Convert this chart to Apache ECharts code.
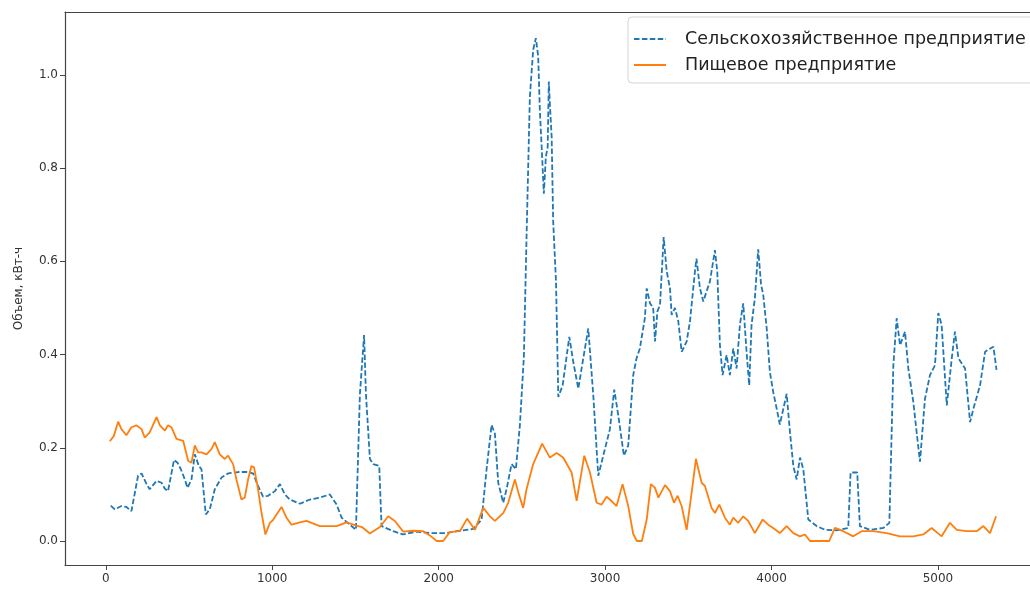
<!DOCTYPE html>
<html>
<head>
<meta charset="utf-8">
<script src="https://cdn.jsdelivr.net/npm/echarts@6/dist/echarts.min.js"></script>
<style>html,body{margin:0;padding:0;background:#fff}#c{width:1030px;height:589px}</style>
</head>
<body>
<div id="c"></div>
<script>
const seriesNames = ['Сельскохозяйственное предприятие', 'Пищевое предприятие'];
const yAxisName = 'Объем, кВт-ч';
const xTicks = [0, 1000, 2000, 3000, 4000, 5000];
const yTicks = [0, 0.2, 0.4, 0.6, 0.8, 1.0];

// Сельскохозяйственное предприятие: [x, value]
const agri = [[30,0.076],[54,0.068],[94,0.075],[124,0.073],[154,0.064],[194,0.14],[215,0.145],[245,0.122],[264,0.111],[305,0.129],[335,0.125],[355,0.112],[374,0.107],[410,0.174],[431,0.168],[451,0.154],[475,0.132],[491,0.114],[515,0.132],[535,0.186],[559,0.161],[575,0.154],[601,0.057],[625,0.068],[655,0.111],[695,0.136],[735,0.145],[795,0.148],[846,0.148],[885,0.145],[915,0.118],[945,0.095],[975,0.097],[1016,0.107],[1046,0.122],[1076,0.1],[1106,0.089],[1166,0.08],[1226,0.089],[1286,0.093],[1346,0.1],[1387,0.078],[1417,0.05],[1466,0.035],[1503,0.024],[1527,0.316],[1552,0.442],[1563,0.316],[1587,0.176],[1607,0.165],[1643,0.161],[1657,0.032],[1727,0.021],[1787,0.014],[1867,0.02],[1947,0.017],[2048,0.017],[2108,0.021],[2208,0.026],[2258,0.046],[2288,0.154],[2318,0.249],[2338,0.23],[2358,0.125],[2388,0.082],[2408,0.111],[2438,0.165],[2464,0.154],[2488,0.248],[2512,0.395],[2528,0.651],[2548,0.953],[2568,1.054],[2584,1.079],[2598,1.04],[2608,0.924],[2619,0.845],[2632,0.745],[2644,0.824],[2655,0.845],[2662,0.986],[2668,0.939],[2679,0.867],[2688,0.687],[2705,0.557],[2719,0.309],[2745,0.334],[2785,0.438],[2809,0.384],[2839,0.327],[2869,0.392],[2899,0.456],[2929,0.313],[2959,0.14],[2989,0.183],[3029,0.24],[3055,0.325],[3079,0.27],[3113,0.183],[3139,0.205],[3169,0.356],[3189,0.392],[3209,0.413],[3239,0.478],[3250,0.542],[3270,0.51],[3289,0.5],[3300,0.428],[3314,0.492],[3330,0.507],[3352,0.652],[3370,0.579],[3390,0.542],[3400,0.485],[3420,0.5],[3440,0.471],[3460,0.406],[3490,0.428],[3510,0.471],[3540,0.579],[3549,0.606],[3570,0.542],[3590,0.514],[3610,0.536],[3630,0.557],[3660,0.624],[3674,0.579],[3690,0.42],[3706,0.356],[3730,0.399],[3750,0.356],[3770,0.413],[3790,0.37],[3810,0.464],[3830,0.51],[3850,0.406],[3866,0.334],[3880,0.464],[3900,0.521],[3920,0.626],[3937,0.55],[3950,0.529],[3971,0.456],[3990,0.363],[4010,0.32],[4031,0.284],[4050,0.25],[4091,0.316],[4111,0.233],[4131,0.161],[4151,0.132],[4171,0.179],[4191,0.154],[4221,0.046],[4271,0.032],[4321,0.024],[4391,0.023],[4461,0.028],[4475,0.147],[4515,0.147],[4531,0.032],[4592,0.024],[4672,0.028],[4708,0.039],[4732,0.377],[4752,0.478],[4772,0.42],[4802,0.449],[4822,0.37],[4852,0.298],[4872,0.233],[4892,0.17],[4922,0.305],[4952,0.356],[4982,0.377],[5002,0.489],[5022,0.464],[5053,0.291],[5083,0.392],[5102,0.449],[5123,0.392],[5163,0.37],[5193,0.255],[5213,0.284],[5253,0.334],[5283,0.406],[5333,0.417],[5352,0.367]];

// Пищевое предприятие: [x, value]
const food = [[24,0.214],[48,0.225],[74,0.256],[94,0.24],[124,0.227],[154,0.244],[185,0.248],[215,0.24],[234,0.222],[264,0.233],[305,0.266],[325,0.248],[355,0.237],[373,0.248],[395,0.244],[425,0.219],[465,0.215],[495,0.172],[515,0.168],[535,0.205],[555,0.19],[575,0.19],[605,0.186],[635,0.197],[655,0.212],[685,0.186],[715,0.176],[735,0.183],[765,0.165],[785,0.132],[815,0.089],[835,0.093],[855,0.132],[875,0.161],[891,0.158],[915,0.111],[936,0.06],[959,0.014],[986,0.039],[1005,0.045],[1026,0.057],[1056,0.073],[1086,0.05],[1116,0.035],[1166,0.04],[1206,0.043],[1286,0.032],[1387,0.032],[1447,0.04],[1507,0.033],[1539,0.03],[1587,0.016],[1647,0.03],[1697,0.053],[1737,0.043],[1787,0.02],[1847,0.022],[1907,0.021],[1947,0.012],[1988,0.0],[2027,0.0],[2067,0.019],[2128,0.021],[2171,0.048],[2218,0.024],[2268,0.071],[2308,0.053],[2338,0.043],[2388,0.06],[2418,0.082],[2458,0.132],[2482,0.1],[2508,0.071],[2528,0.111],[2568,0.165],[2622,0.209],[2668,0.179],[2709,0.189],[2748,0.179],[2799,0.147],[2829,0.086],[2875,0.183],[2909,0.147],[2949,0.082],[2979,0.078],[3009,0.095],[3029,0.089],[3069,0.075],[3105,0.122],[3139,0.075],[3169,0.015],[3191,0.0],[3221,0.0],[3250,0.046],[3275,0.122],[3300,0.114],[3320,0.093],[3360,0.12],[3390,0.107],[3414,0.082],[3436,0.097],[3460,0.075],[3490,0.024],[3520,0.104],[3546,0.176],[3580,0.125],[3600,0.118],[3640,0.071],[3660,0.06],[3686,0.078],[3720,0.05],[3750,0.035],[3770,0.05],[3800,0.039],[3830,0.053],[3860,0.043],[3900,0.017],[3947,0.046],[3980,0.035],[4010,0.028],[4050,0.017],[4091,0.032],[4131,0.017],[4171,0.01],[4201,0.014],[4231,0.0],[4291,0.0],[4347,0.0],[4381,0.028],[4431,0.021],[4491,0.01],[4542,0.021],[4611,0.021],[4692,0.017],[4772,0.01],[4852,0.01],[4912,0.014],[4962,0.028],[5022,0.01],[5072,0.039],[5113,0.024],[5173,0.021],[5233,0.021],[5273,0.032],[5313,0.017],[5349,0.053]];

const FONT = 'DejaVu Sans';
const X_MIN = -245, X_MAX = 5553;
const chart = echarts.init(document.getElementById('c'), null, {renderer: 'canvas'});
chart.setOption({
  animation: false,
  backgroundColor: '#fff',
  grid: {left: 65, top: 12, right: 0, bottom: 24, show: false},
  legend: {
    orient: 'vertical', left: 628, top: 17,
    padding: [13, 60, 9, 5], itemGap: 8,
    itemWidth: 32, itemHeight: 14,
    backgroundColor: '#fff', borderColor: '#d5d5d5', borderWidth: 1, borderRadius: 4,
    itemStyle: {opacity: 0},
    textStyle: {fontFamily: FONT, fontSize: 17.5, color: '#222', padding: [0, 0, 0, 14]},
    data: seriesNames
  },
  xAxis: [{
    type: 'value', min: X_MIN, max: X_MAX,
    axisLine: {show: true, onZero: false, lineStyle: {color: '#444', width: 1.2}},
    axisTick: {show: true, length: 5, lineStyle: {color: '#444'}, customValues: xTicks},
    axisLabel: {fontFamily: FONT, fontSize: 12, color: '#333', margin: 8, customValues: xTicks, formatter: v => String(v)},
    splitLine: {show: false}
  }, {
    type: 'value', position: 'top', min: X_MIN, max: X_MAX,
    axisLine: {show: true, onZero: false, lineStyle: {color: '#444', width: 1.2}},
    axisTick: {show: false}, axisLabel: {show: false}, splitLine: {show: false}
  }],
  yAxis: {
    type: 'value', min: -0.0515, max: 1.135,
    name: yAxisName, nameLocation: 'middle', nameGap: 40, nameRotate: 90,
    nameTextStyle: {fontFamily: FONT, fontSize: 12, color: '#333'},
    axisLine: {show: true, onZero: false, lineStyle: {color: '#444', width: 1.2}},
    axisTick: {show: true, length: 5, lineStyle: {color: '#444'}, customValues: yTicks},
    axisLabel: {fontFamily: FONT, fontSize: 12, color: '#333', margin: 7, customValues: yTicks, formatter: v => v.toFixed(1)},
    splitLine: {show: false}
  },
  series: [
    {name: seriesNames[0], type: 'line', data: agri, symbol: 'none', z: 2,
     lineStyle: {color: '#1f77b4', width: 1.8, type: [5.5, 2.4]}, itemStyle: {color: '#1f77b4'}},
    {name: seriesNames[1], type: 'line', data: food, symbol: 'none', z: 3,
     lineStyle: {color: '#ff7f0e', width: 1.8}, itemStyle: {color: '#ff7f0e'}}
  ]
});
</script>
</body>
</html>
